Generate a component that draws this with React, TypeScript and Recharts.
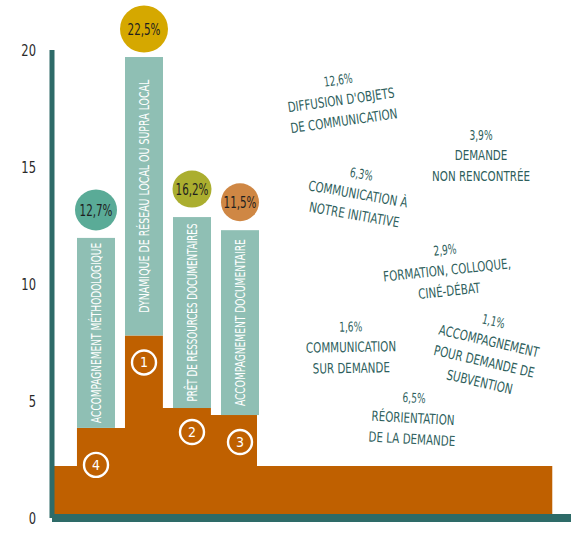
import React from "react";
import { ComposedChart, Area, Bar, XAxis, YAxis } from "recharts";

// ---- data ----
const categories = [
  "ACCOMPAGNEMENT MÉTHODOLOGIQUE",
  "DYNAMIQUE DE RÉSEAU LOCAL OU SUPRA LOCAL",
  "PRÊT DE RESSOURCES DOCUMENTAIRES",
  "ACCOMPAGNEMENT DOCUMENTAIRE",
];
const shares = ["12,7%", "22,5%", "16,2%", "11,5%"];
const ranks = ["4", "1", "2", "3"];
const barTops = [11.97, 19.7, 12.86, 12.3];
const podiumEdges = [0, 0.52, 1.52, 2.31, 3.31, 4.27, 10.42];
const podiumLevels = [2.22, 3.85, 7.8, 4.7, 4.4, 2.22, 2.22];
const yTicks = [0, 5, 10, 15, 20];

const otherShares = ["12,6%", "3,9%", "6,3%", "2,9%", "1,6%", "1,1%", "6,5%"];
const otherLabels = [
  ["DIFFUSION D'OBJETS", "DE COMMUNICATION"],
  ["DEMANDE", "NON RENCONTRÉE"],
  ["COMMUNICATION À", "NOTRE INITIATIVE"],
  ["FORMATION, COLLOQUE,", "CINÉ-DÉBAT"],
  ["COMMUNICATION", "SUR DEMANDE"],
  ["ACCOMPAGNEMENT", "POUR DEMANDE DE", "SUBVENTION"],
  ["RÉORIENTATION", "DE LA DEMANDE"],
];

// ---- styles / layout ----
const TEAL_BAR = "#8fbfb4";
const ORANGE = "#bf6000";
const AXIS = "#2e6b68";
const TEXT = "#2f5f5d";
const FONT = "'DejaVu Sans Condensed', 'Liberation Sans Narrow', sans-serif";
const bubbleColors = ["#5aab97", "#d5a800", "#abae2f", "#cf8744"];
const bubbleRadii = [[21, 20.5], [24, 23.5], [19.5, 18.5], [19, 19]];
const labelLengths = [180, 233, 178, 167];
const rankOffsets = [37, 27, 24, 27];
const annotationLayout = [
  { x: 341, y: 100, rot: -8 },
  { x: 481, y: 155, rot: 0 },
  { x: 358, y: 194, rot: 10 },
  { x: 447, y: 270, rot: -6 },
  { x: 351, y: 347, rot: -1 },
  { x: 489, y: 341, rot: 13 },
  { x: 413, y: 418, rot: 3 },
];

const podiumData = podiumEdges.map((x, i) => ({ x, y: podiumLevels[i] }));
const barData = categories.map((name, i) => ({
  name,
  range: [podiumLevels[i + 1], barTops[i]],
  share: shares[i],
  rank: ranks[i],
}));

const BarShape = (props: any) => {
  const { x, y, width, height, index } = props;
  const top = Math.min(y, y + height);
  const h = Math.abs(height);
  const bottom = top + h;
  const cx = x + width / 2;
  const i = index ?? 0;
  const [rx, ry] = bubbleRadii[i];
  const by = top - 28;
  const ry2 = bottom + rankOffsets[i];
  return (
    <g>
      <rect x={x} y={top} width={width} height={h} fill={TEAL_BAR} />
      <text
        transform={`translate(${cx},${top + h / 2}) rotate(-90)`}
        textAnchor="middle"
        dominantBaseline="central"
        fill="#ffffff"
        fontSize={14.5}
        fontFamily={FONT}
        textLength={labelLengths[i]}
        lengthAdjust="spacingAndGlyphs"
      >
        {categories[i]}
      </text>
      <ellipse cx={cx} cy={by} rx={rx} ry={ry} fill={bubbleColors[i]} />
      <g transform={`translate(${cx},${by}) scale(0.72,1)`}>
        <text
          x={0}
          y={0}
          textAnchor="middle"
          dominantBaseline="central"
          fill="#1f1f1f"
          fontSize={16}
          fontFamily={FONT}
        >
          {shares[i]}
        </text>
      </g>
      <circle cx={cx} cy={ry2} r={12} fill="none" stroke="#ffffff" strokeWidth={2.4} />
      <text
        x={cx}
        y={ry2}
        textAnchor="middle"
        dominantBaseline="central"
        fill="#ffffff"
        fontSize={14}
        fontFamily={FONT}
      >
        {ranks[i]}
      </text>
    </g>
  );
};

const YTick = (props: any) => {
  const { x, y, payload } = props;
  return (
    <g transform={`translate(${x},${y}) scale(0.8,1)`}>
      <text
        x={0}
        y={0}
        textAnchor="end"
        dominantBaseline="central"
        fill="#2a2a2a"
        fontSize={16}
        fontFamily={FONT}
      >
        {payload.value}
      </text>
    </g>
  );
};

export default function App() {
  return (
    <div style={{ position: "absolute", left: 0, top: 0, width: 571, height: 533, background: "#ffffff" }}>
      <ComposedChart
        width={571}
        height={533}
        data={barData}
        margin={{ top: 50, right: 0, bottom: 14, left: 0 }}
      >
        <XAxis
          xAxisId="num"
          type="number"
          dataKey="x"
          domain={[0, 10.81]}
          allowDataOverflow
          hide
        />
        <XAxis
          xAxisId="cat"
          type="category"
          dataKey="name"
          padding={{ left: 20, right: 307 }}
          height={1}
          tick={false}
          tickLine={false}
          axisLine={{ stroke: AXIS, strokeWidth: 8 }}
        />
        <YAxis
          type="number"
          domain={[0, 20]}
          ticks={yTicks}
          width={52}
          tickLine={false}
          tickSize={6}
          tickMargin={10}
          tick={<YTick />}
          axisLine={{ stroke: AXIS, strokeWidth: 5 }}
        />
        <Area
          xAxisId="num"
          data={podiumData}
          dataKey="y"
          type="stepAfter"
          fill={ORANGE}
          fillOpacity={1}
          stroke="none"
          isAnimationActive={false}
        />
        <Bar
          xAxisId="cat"
          dataKey="range"
          barSize={38}
          shape={<BarShape />}
          isAnimationActive={false}
        />
      </ComposedChart>
      <svg
        width={571}
        height={533}
        style={{ position: "absolute", left: 0, top: 0, pointerEvents: "none" }}
      >
        {otherLabels.map((lines, i) => {
          const l = annotationLayout[i];
          return (
            <g key={i} transform={`translate(${l.x},${l.y}) rotate(${l.rot})`}>
              <g transform="translate(0,-20) scale(0.75,1)">
                <text
                  x={0}
                  y={0}
                  textAnchor="middle"
                  dominantBaseline="central"
                  fill={TEXT}
                  fontSize={13.5}
                  fontFamily={FONT}
                >
                  {otherShares[i]}
                </text>
              </g>
              {lines.map((line, j) => (
                <g key={j} transform={`translate(0,${j * 21}) scale(0.82,1)`}>
                  <text
                    x={0}
                    y={0}
                    textAnchor="middle"
                    dominantBaseline="central"
                    fill={TEXT}
                    fontSize={14}
                    fontFamily={FONT}
                  >
                    {line}
                  </text>
                </g>
              ))}
            </g>
          );
        })}
      </svg>
    </div>
  );
}
